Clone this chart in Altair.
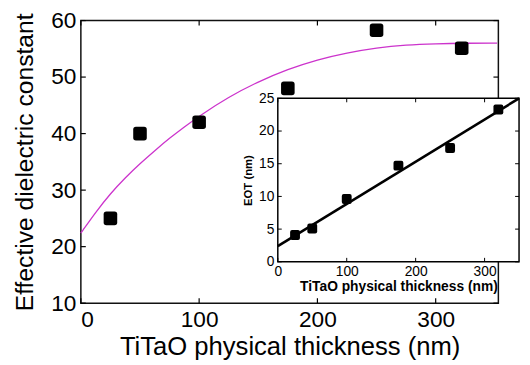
import altair as alt
import pandas as pd

# ---- data ----
main_x = [25, 50, 100, 175, 250, 322]
main_y = [25.0, 40.0, 42.0, 48.0, 58.3, 55.1]

curve_x = [0, 12.5, 25, 37.5, 50, 62.5, 75, 87.5, 100, 125, 150, 175, 200, 225, 250, 275, 300, 325, 352]
curve_y = [22.4, 26.1, 29.4, 32.2, 34.7, 37.0, 39.2, 41.2, 43.1, 46.5, 49.2, 51.4, 53.1, 54.3, 55.2, 55.7, 55.9, 56.0, 56.0]

inset_x = [25, 50, 100, 175, 250, 320]
inset_y = [4.1, 5.1, 9.6, 14.7, 17.4, 23.3]

fit_x = [0, 350]
fit_y = [2.4, 25.0]

main_xticks = [0, 100, 200, 300]
main_yticks = [10, 20, 30, 40, 50, 60]
inset_xticks = [0, 100, 200, 300]
inset_yticks = [0, 5, 10, 15, 20, 25]

# ---- layout ----
TOP = 10
W, H = 424, 297 - TOP
IX0, IX1 = 200, 445          # inset box (view coords, x)
IY0, IY1 = 89 - TOP, 255 - TOP  # inset box (view coords, y)
FONT = "Liberation Sans"
RSQ = "M -1 -0.6 Q -1 -1 -0.6 -1 L 0.6 -1 Q 1 -1 1 -0.6 L 1 0.6 Q 1 1 0.6 1 L -0.6 1 Q -1 1 -1 0.6 Z"

mx = alt.Scale(domain=[0, 353], nice=False, zero=False)
my = alt.Scale(domain=[10, 60], nice=False, zero=False)
ix = alt.Scale(domain=[0, 350], range=[IX0, IX1], nice=False, zero=False)
iy = alt.Scale(domain=[0, 25], range=[IY1, IY0], nice=False, zero=False)

main_xaxis = alt.Axis(values=main_xticks, title="TiTaO physical thickness (nm)", orient="bottom",
                      labelFontSize=23, labelPadding=6, titleFontSize=26, titlePadding=2,
                      titleFontWeight="normal", domain=False, ticks=False, grid=False,
                      labelColor="black", titleColor="black", labelFont=FONT, titleFont=FONT)
main_yaxis = alt.Axis(values=main_yticks, title="Effective dielectric constant", orient="left",
                      labelFontSize=23, labelPadding=5, titleFontSize=25, titlePadding=14,
                      titleFontWeight="normal", domain=False, ticks=False, grid=False,
                      labelColor="black", titleColor="black", labelFont=FONT, titleFont=FONT)

inset_xaxis = alt.Axis(values=inset_xticks, title="TiTaO physical thickness (nm)", orient="bottom",
                       offset=-(H - IY1), labelFontSize=14, labelPadding=3, titleFontSize=14,
                       titlePadding=1, titleFontWeight="bold", domain=False, ticks=False, grid=False,
                       labelColor="black", titleColor="black", labelFont=FONT, titleFont=FONT,
                       zindex=2, labelFlush=False)
inset_yaxis = alt.Axis(values=inset_yticks, title="EOT (nm)", orient="left",
                       offset=-IX0, labelFontSize=14, labelPadding=4, titleFontSize=11.5,
                       titlePadding=5, titleFontWeight="bold", domain=False, ticks=False, grid=False,
                       labelColor="black", titleColor="black", labelFont=FONT, titleFont=FONT,
                       zindex=2, labelFlush=False)

def MX(f):
    return alt.X(f, scale=mx, axis=main_xaxis)

def MY(f):
    return alt.Y(f, scale=my, axis=main_yaxis)

def IXe(f):
    return alt.X(f, scale=ix, axis=inset_xaxis)

def IYe(f):
    return alt.Y(f, scale=iy, axis=inset_yaxis)

# ---- main panel ----
curve = alt.Chart(pd.DataFrame({"x": curve_x, "y": curve_y})).mark_line(
    color="#cc33cc", strokeWidth=1.3, interpolate="basis").encode(
    x=MX("x:Q"), y=MY("y:Q"))

pts = alt.Chart(pd.DataFrame({"x": main_x, "y": main_y})).mark_point(
    shape=RSQ, size=190, filled=True, color="black", opacity=1).encode(
    x=MX("x:Q"), y=MY("y:Q"))

dxt = pd.DataFrame({"x": main_xticks})
dyt = pd.DataFrame({"y": main_yticks})
tk = dict(color="black", strokeWidth=1.2)
mt1 = alt.Chart(dxt).mark_rule(**tk).encode(x=MX("x:Q"), y=alt.value(H), y2=alt.value(H - 5))
mt2 = alt.Chart(dxt).mark_rule(**tk).encode(x=MX("x:Q"), y=alt.value(0), y2=alt.value(5))
mt3 = alt.Chart(dyt).mark_rule(**tk).encode(y=MY("y:Q"), x=alt.value(0), x2=alt.value(5))
mt4 = alt.Chart(dyt).mark_rule(**tk).encode(y=MY("y:Q"), x=alt.value(W), x2=alt.value(W - 5))

main = alt.layer(curve, mt1, mt2, mt3, mt4, pts)

# ---- inset panel ----
frame = alt.Chart(pd.DataFrame({"x": [0], "y": [0]})).mark_rect(
    fill="white", stroke="black", strokeWidth=1.5).encode(
    x=alt.value(IX0), x2=alt.value(IX1), y=alt.value(IY0), y2=alt.value(IY1))

fit = alt.Chart(pd.DataFrame({"x": fit_x, "y": fit_y})).mark_line(
    color="black", strokeWidth=2.6).encode(x=IXe("x:Q"), y=IYe("y:Q"))

ipts = alt.Chart(pd.DataFrame({"x": inset_x, "y": inset_y})).mark_point(
    shape=RSQ, size=100, filled=True, color="black", opacity=1).encode(
    x=IXe("x:Q"), y=IYe("y:Q"))

ixt = pd.DataFrame({"x": inset_xticks})
iyt = pd.DataFrame({"y": inset_yticks})
tk2 = dict(color="black", strokeWidth=1)
it1 = alt.Chart(ixt).mark_rule(**tk2).encode(x=IXe("x:Q"), y=alt.value(IY1), y2=alt.value(IY1 - 4))
it2 = alt.Chart(ixt).mark_rule(**tk2).encode(x=IXe("x:Q"), y=alt.value(IY0), y2=alt.value(IY0 + 4))
it3 = alt.Chart(iyt).mark_rule(**tk2).encode(y=IYe("y:Q"), x=alt.value(IX0), x2=alt.value(IX0 + 4))
it4 = alt.Chart(iyt).mark_rule(**tk2).encode(y=IYe("y:Q"), x=alt.value(IX1), x2=alt.value(IX1 - 4))

inset = alt.layer(frame, fit, it1, it2, it3, it4, ipts)

chart = alt.layer(main, inset).resolve_scale(
    x="independent", y="independent").resolve_axis(
    x="independent", y="independent").properties(
    width=W, height=H,
    autosize=alt.AutoSizeParams(type="none"),
    padding={"left": 74, "top": TOP, "right": 24, "bottom": 57},
    background="white",
).configure(font=FONT).configure_view(stroke="#111111", strokeWidth=1.5)

chart.save("out.html", embed_options={"renderer": "svg", "actions": False})
